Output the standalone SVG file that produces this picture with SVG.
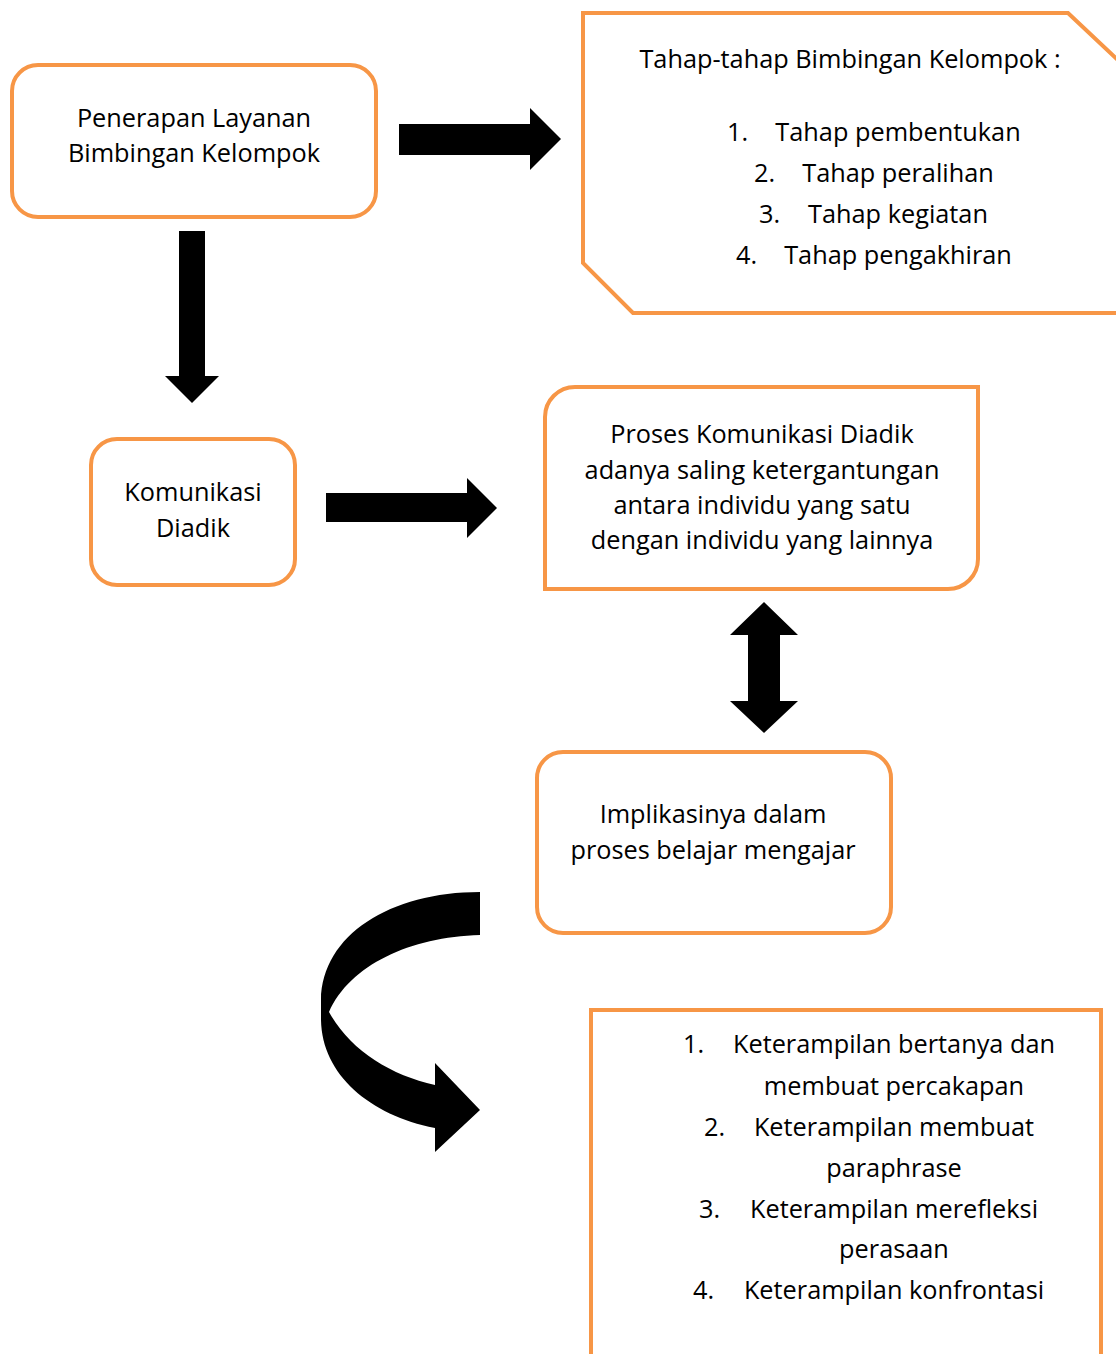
<svg xmlns="http://www.w3.org/2000/svg" width="1116" height="1354" viewBox="0 0 1116 1354">
<style>
.box{fill:#fff;stroke:#F79646;stroke-width:4}
.arr{fill:#000}
text{font-family:"Open Sans","Noto Sans","Liberation Sans",sans-serif;font-size:25.3px;fill:#000}
.c{text-anchor:middle}
</style>
<rect width="1116" height="1354" fill="#fff"/>
<g id="connectors">
<path class="arr" d="M399 124 H530 V108 L561 139 L530 170 V155 H399 Z"/>
<path class="arr" d="M179 231 H205 V376 H219 L192 403 L165 376 H179 Z"/>
<path class="arr" d="M326 493 H467 V478 L497 508 L467 538 V522 H326 Z"/>
<path class="arr" d="M764 602 L798 635 H780 V701 H798 L764 733 L730 701 H748 V635 H730 Z"/>
<path class="arr" d="M480 892 L480 935 C410 937 350 965 329 1012 C350 1050 390 1075 435 1085 L435 1063 L480 1110 L435 1152 L435 1128 C370 1115 322 1075 321 1020 L321 1000 C322 935 390 892 480 892 Z"/>
</g>
<g id="node-penerapan">
<rect class="box" x="12" y="65" width="364" height="152" rx="26"/>
<text class="c" x="194" y="127">Penerapan Layanan</text>
<text class="c" x="194" y="162">Bimbingan Kelompok</text>
</g>
<g id="node-tahap">
<path class="box" d="M583 13 H1068 L1120 62 V313 H633 L583 263 Z"/>
<text class="c" x="850" y="68">Tahap-tahap Bimbingan Kelompok :</text>
<text x="727" y="141">1.</text><text class="c" x="898" y="141">Tahap pembentukan</text>
<text x="754" y="182">2.</text><text class="c" x="898" y="182">Tahap peralihan</text>
<text x="759" y="223">3.</text><text class="c" x="898" y="223">Tahap kegiatan</text>
<text x="736" y="264">4.</text><text class="c" x="898" y="264">Tahap pengakhiran</text>
</g>
<g id="node-komunikasi">
<rect class="box" x="91" y="439" width="204" height="146" rx="26"/>
<text class="c" x="193" y="501">Komunikasi</text>
<text class="c" x="193" y="537">Diadik</text>
</g>
<g id="node-proses">
<path class="box" d="M575 387 H978 V559 A30 30 0 0 1 948 589 H545 V417 A30 30 0 0 1 575 387 Z"/>
<text class="c" x="762" y="443">Proses Komunikasi Diadik</text>
<text class="c" x="762" y="479">adanya saling ketergantungan</text>
<text class="c" x="762" y="514">antara individu yang satu</text>
<text class="c" x="762" y="549">dengan individu yang lainnya</text>
</g>
<g id="node-implikasi">
<rect class="box" x="537" y="752" width="354" height="181" rx="26"/>
<text class="c" x="713" y="823">Implikasinya dalam</text>
<text class="c" x="713" y="859">proses belajar mengajar</text>
</g>
<g id="node-keterampilan">
<path class="box" d="M591 1360 V1010 H1101 V1360"/>
<text x="683" y="1053">1.</text><text class="c" x="894" y="1053">Keterampilan bertanya dan</text>
<text class="c" x="894" y="1095">membuat percakapan</text>
<text x="704" y="1136">2.</text><text class="c" x="894" y="1136">Keterampilan membuat</text>
<text class="c" x="894" y="1177">paraphrase</text>
<text x="699" y="1218">3.</text><text class="c" x="894" y="1218">Keterampilan merefleksi</text>
<text class="c" x="894" y="1258">perasaan</text>
<text x="693" y="1299">4.</text><text class="c" x="894" y="1299">Keterampilan konfrontasi</text>
</g>
</svg>
